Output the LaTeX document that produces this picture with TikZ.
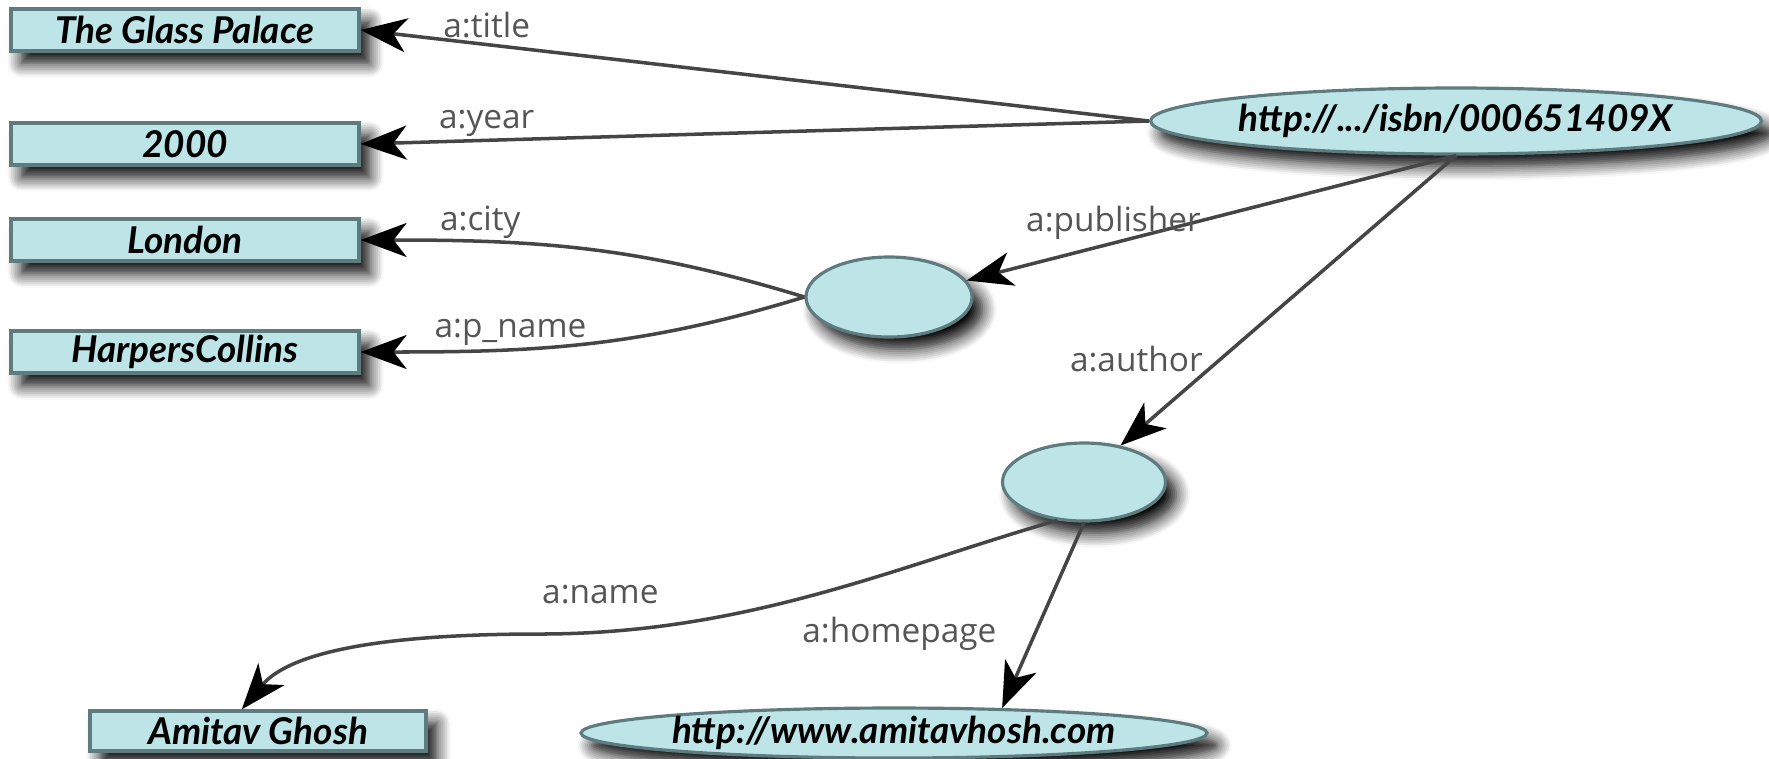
\documentclass[tikz,border=0pt]{standalone}
\usepackage{fontspec}
\setmainfont{Lato}
\newfontfamily\labelfont{Open Sans}
\usepackage{tikz}
\usetikzlibrary{arrows.meta, positioning, shapes, shadows.blur}

\definecolor{nodefill}{HTML}{BDE5E8}
\definecolor{nodeline}{HTML}{5E7C7F}
\definecolor{edgegray}{HTML}{454545}
\definecolor{labelgray}{HTML}{555555}

\begin{document}
\begin{tikzpicture}[
  x=0.1mm,y=-0.1mm,
  dropshade/.style={blur shadow={shadow xshift=3pt, shadow yshift=-3.5pt, shadow blur radius=4pt, shadow blur steps=8, shadow opacity=100}},
  lit/.style={draw=nodeline, line width=0.9pt, fill=nodefill, dropshade, minimum width=34.8mm, minimum height=4.2mm, inner sep=0pt, font=\fontsize{10.5}{12}\selectfont\bfseries\itshape},
  res/.style={ellipse, draw=nodeline, line width=0.9pt, fill=nodefill, dropshade, inner sep=0pt, font=\fontsize{10.5}{12}\selectfont\bfseries\itshape},
  prop/.style={-{Stealth[length=4.6mm, width=3.4mm, inset=1.3mm, black]}, draw=edgegray, line width=1pt},
  plabel/.style={font=\labelfont\fontsize{9.5}{11}\selectfont, text=labelgray, inner sep=0.5pt}
]
\useasboundingbox (0,0) rectangle (1769,758);

% literal values on the left
\node[lit] (title) at (185,30) {The Glass Palace};
\node[lit] (year) at (185,144) {2000};
\node[lit] (city) at (185,240) {London};
\node[lit] (pname) at (185,352) {HarpersCollins};

% resources
\node[res, minimum width=61.1mm, minimum height=6.6mm, inner xsep=-6mm] (book) at (1456,121) {http://.../isbn/000651409X};
\node[res, minimum width=16.6mm, minimum height=8mm] (pub) at (889,297) {};
\node[res, minimum width=16.3mm, minimum height=7.8mm] (auth) at (1084,482) {};

% bottom row
\node[lit, minimum width=33.6mm, minimum height=4mm] (aname) at (258,731) {Amitav Ghosh};
\node[res, minimum width=62.6mm, minimum height=5mm, inner xsep=-9mm] (home) at (894,733) {http://www.amitavhosh.com};
\coordinate (namebend) at (540,634);

% properties
\draw[prop] (book.west) -- node[plabel, pos=0.84, above=0.3mm] {a:title} (title.east);
\draw[prop] (book.west) -- node[plabel, pos=0.84, above=0mm] {a:year} (year.east);
\draw[prop] (book.south) -- node[plabel, pos=0.7, above=0mm] {a:publisher} (pub.12);
\draw[prop] (book.south) -- node[plabel, pos=0.7, left=1.5mm] {a:author} (auth.45);
\draw[prop] (pub.west) to[out=163, in=0] node[plabel, pos=0.75, above] {a:city} (city.east);
\draw[prop] (pub.west) to[out=197, in=0] node[plabel, pos=0.68, above] {a:p\_name} (pname.east);
\draw[prop] (auth.235) to[out=196, in=0, out looseness=0.8] node[plabel, pos=0.9, above=2.5mm] {a:name} (namebend)
  to[out=180, in=50, out looseness=1.4, in looseness=0.6] (aname.127);
\draw[prop] (auth.south) -- node[plabel, pos=0.6, left=3.5mm] {a:homepage} (home.13);

\end{tikzpicture}
\end{document}
